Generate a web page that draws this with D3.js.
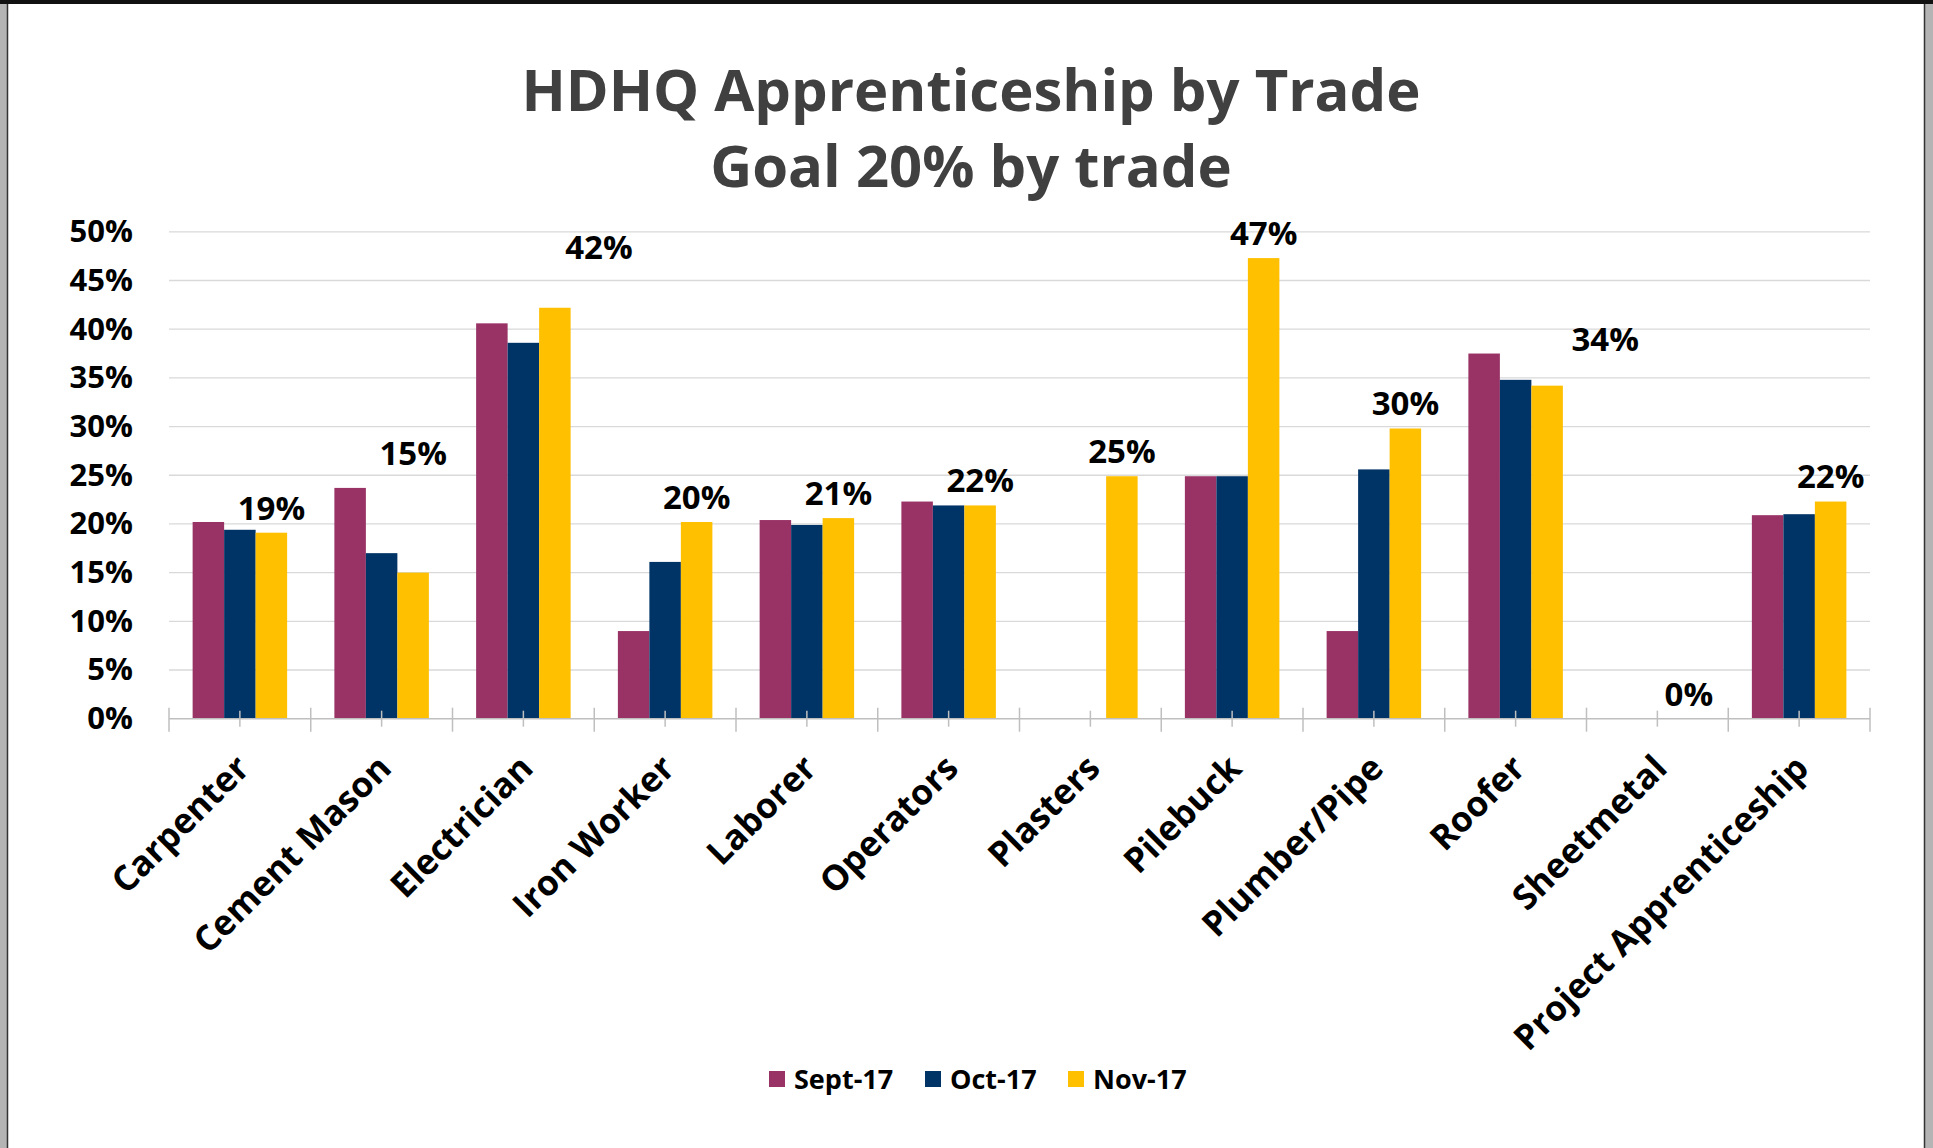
<!DOCTYPE html>
<html>
<head>
<meta charset="utf-8">
<script src="https://cdn.jsdelivr.net/npm/d3@7"></script>
<style>
  html, body { margin: 0; padding: 0; background: #fff; }
  svg { display: block; font-family: "Open Sans", "Noto Sans", sans-serif; }
</style>
</head>
<body>
<svg id="chart" width="1933" height="1148"></svg>
<script>
// ---- data ----
const categories = ["Carpenter", "Cement Mason", "Electrician", "Iron Worker", "Laborer", "Operators",
  "Plasters", "Pilebuck", "Plumber/Pipe", "Roofer", "Sheetmetal", "Project Apprenticeship"];
const seriesNames = ["Sept-17", "Oct-17", "Nov-17"];
const sept17 = [0.202, 0.237, 0.406, 0.090, 0.204, 0.223, 0.0, 0.249, 0.090, 0.375, 0.0, 0.209];
const oct17  = [0.194, 0.170, 0.386, 0.161, 0.199, 0.219, 0.0, 0.249, 0.256, 0.348, 0.0, 0.210];
const nov17  = [0.191, 0.150, 0.422, 0.202, 0.206, 0.219, 0.249, 0.473, 0.298, 0.342, 0.0, 0.223];
const novLabels = ["19%", "15%", "42%", "20%", "21%", "22%", "25%", "47%", "30%", "34%", "0%", "22%"];
const yTicks = [0, 0.05, 0.10, 0.15, 0.20, 0.25, 0.30, 0.35, 0.40, 0.45, 0.50];
const titleLines = ["HDHQ Apprenticeship by Trade", "Goal 20% by trade"];

// ---- layout / style (not data) ----
const colors = ["#993366", "#003366", "#FFC000"];
const labelShift = [[0,0],[0,-95],[44,-36],[0,0],[0,0],[0,0],[0,0],[0,0],[0,0],[58,-22],[0,0],[0,0]];
const W = 1933, H = 1148;
const plot = { left: 169, right: 1870, top: 231.8, bottom: 718.7 };

const svg = d3.select("#chart");

// frame
svg.append("rect").attr("x", 0).attr("y", 0).attr("width", W).attr("height", H).attr("fill", "#fff");
svg.append("rect").attr("x", 0).attr("y", 0).attr("width", 7).attr("height", H).attr("fill", "#b4b4b4");
svg.append("line").attr("x1", 7.5).attr("x2", 7.5).attr("y1", 0).attr("y2", H).attr("stroke", "#333").attr("stroke-width", 1.5);
svg.append("rect").attr("x", 1925).attr("y", 0).attr("width", 8).attr("height", H).attr("fill", "#b4b4b4");
svg.append("line").attr("x1", 1924.5).attr("x2", 1924.5).attr("y1", 0).attr("y2", H).attr("stroke", "#333").attr("stroke-width", 1.5);
svg.append("rect").attr("x", 0).attr("y", 0).attr("width", W).attr("height", 4).attr("fill", "#111");

const x0 = d3.scaleBand().domain(categories).range([plot.left, plot.right]).paddingInner(0).paddingOuter(0);
const bandW = x0.bandwidth();
const barW = bandW / 4.5;
const x1 = d3.scaleBand().domain(seriesNames).range([0, barW * 3]);
const groupOffset = (bandW - barW * 3) / 2;
const y = d3.scaleLinear().domain([0, 0.5]).range([plot.bottom, plot.top]);

// gridlines
svg.append("g").selectAll("line").data(yTicks.slice(1)).join("line")
  .attr("x1", plot.left).attr("x2", plot.right)
  .attr("y1", d => y(d)).attr("y2", d => y(d))
  .attr("stroke", "#d9d9d9").attr("stroke-width", 1.3);

// y axis labels
const yAxis = d3.axisLeft(y).tickValues(yTicks).tickFormat(d3.format(".0%")).tickSize(0).tickPadding(36);
const gy = svg.append("g").attr("transform", `translate(${plot.left},0)`).call(yAxis);
gy.select(".domain").remove();
gy.selectAll("text").attr("font-size", 31).attr("font-weight", 700).attr("fill", "#000")
  .attr("font-family", "'Open Sans', sans-serif");

// bars
const series = [sept17, oct17, nov17];
const gBars = svg.append("g");
series.forEach((vals, si) => {
  gBars.append("g").selectAll("rect").data(vals.map((v, i) => ({ v, c: categories[i] }))).join("rect")
    .attr("x", d => x0(d.c) + groupOffset + x1(seriesNames[si]))
    .attr("width", x1.bandwidth())
    .attr("y", d => y(d.v))
    .attr("height", d => y(0) - y(d.v))
    .attr("fill", colors[si]);
});

// x axis line and ticks
svg.append("line").attr("x1", plot.left).attr("x2", plot.right).attr("y1", y(0)).attr("y2", y(0))
  .attr("stroke", "#bfbfbf").attr("stroke-width", 1.5);
const bounds = categories.map(c => x0(c)).concat([plot.right]);
svg.append("g").selectAll("line").data(bounds).join("line")
  .attr("x1", d => d).attr("x2", d => d).attr("y1", y(0) - 11).attr("y2", y(0) + 13)
  .attr("stroke", "#bfbfbf").attr("stroke-width", 1.5);
svg.append("g").selectAll("line").data(categories).join("line")
  .attr("x1", d => x0(d) + bandW / 2).attr("x2", d => x0(d) + bandW / 2)
  .attr("y1", y(0) - 8).attr("y2", y(0) + 8)
  .attr("stroke", "#bfbfbf").attr("stroke-width", 1.5);

// x labels rotated
svg.append("g").selectAll("text").data(categories).join("text")
  .attr("transform", d => `translate(${x0(d) + bandW / 2 - 6},${y(0) + 34}) rotate(-45)`)
  .attr("text-anchor", "end").attr("dy", "0.71em")
  .attr("font-size", 35).attr("font-weight", 700).attr("fill", "#000")
  .text(d => d);

// data labels for Nov-17
svg.append("g").selectAll("text").data(nov17).join("text")
  .attr("x", (d, i) => x0(categories[i]) + groupOffset + x1("Nov-17") + barW / 2 + labelShift[i][0])
  .attr("y", (d, i) => y(d) - 25 + labelShift[i][1])
  .attr("dy", "0.36em")
  .attr("text-anchor", "middle").attr("font-size", 33).attr("font-weight", 700).attr("fill", "#000")
  .text((d, i) => novLabels[i]);

// title
svg.append("g").selectAll("text").data(titleLines).join("text")
  .attr("x", 971).attr("y", (d, i) => 90 + i * 76).attr("dy", "0.36em")
  .attr("text-anchor", "middle").attr("font-size", 58).attr("font-weight", 700).attr("fill", "#404040")
  .text(d => d);

// legend
const legendX = [769, 925, 1068];
const lg = svg.append("g");
seriesNames.forEach((n, i) => {
  lg.append("rect").attr("x", legendX[i]).attr("y", 1071).attr("width", 16).attr("height", 16).attr("fill", colors[i]);
  lg.append("text").attr("x", legendX[i] + 25).attr("y", 1079).attr("dy", "0.36em")
    .attr("font-size", 27).attr("font-weight", 700).attr("fill", "#000").text(n);
});
</script>
</body>
</html>
